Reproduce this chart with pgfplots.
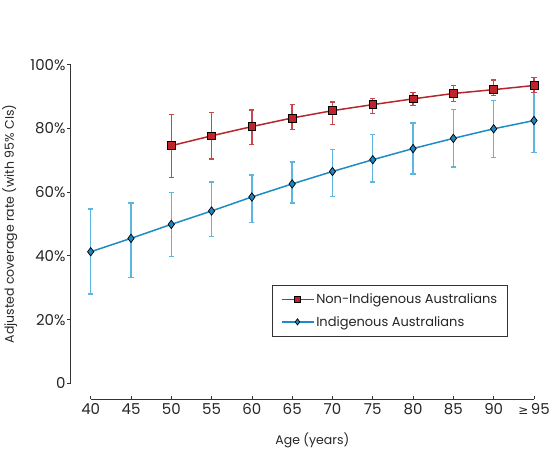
\documentclass[border=0pt]{standalone}
\usepackage{pgfplots}
\usepackage{pgfplotstable}
\pgfplotsset{compat=1.18}
\usepackage{fontspec}
\setmainfont{Poppins}
\newfontfamily\dejavu{DejaVu Sans}
\definecolor{redline}{HTML}{B5272D}
\definecolor{redfill}{HTML}{C0232A}
\definecolor{rederr}{HTML}{C9464B}
\definecolor{blueline}{HTML}{1E8BC6}
\definecolor{bluefill}{HTML}{1C86C1}
\definecolor{blueerr}{HTML}{5DB6E0}
\definecolor{axisgray}{HTML}{333333}

\pgfplotstableread{
x y ep em
0 41.3 13.4 13.3
1 45.5 11.1 12.2
2 49.9 9.9 10.1
3 54.1 9.1 8.0
4 58.5 6.9 8.0
5 62.6 6.9 6.0
6 66.5 7.0 7.9
7 70.2 7.9 7.0
8 73.7 8.0 8.0
9 76.9 9.1 9.0
10 79.9 9.0 9.0
11 82.5 10.0 10.0
}\indig
\pgfplotstableread{
x y ep em
2 74.6 9.7 9.9
3 77.7 7.4 7.3
4 80.6 5.2 5.6
5 83.3 4.2 3.7
6 85.6 2.7 4.4
7 87.5 1.9 2.8
8 89.3 2.0 2.0
9 91.0 2.4 2.6
10 92.2 3.0 1.9
11 93.5 2.5 2.2
}\nonindig

\begin{document}
\begin{tikzpicture}
\path[use as bounding box] (-70.7pt,-66.7pt) rectangle (484.3pt,383.3pt);
\begin{axis}[
  at={(0pt,0pt)}, anchor=south west,
  scale only axis,
  width=483.4pt, height=318.5pt,
  xmin=-0.496, xmax=11.5,
  ymin=0, ymax=100,
  axis x line=none,
  axis y line*=left,
  axis line style={axisgray, line width=0.9pt},
  ytick={0,20,40,60,80,100},
  yticklabels={0,20\%,40\%,60\%,80\%,100\%},
  tick align=outside,
  major tick length=3.5pt,
  tick style={axisgray, line width=0.8pt},
  yticklabel style={font=\fontsize{15}{17}\selectfont, text=black!85, inner sep=1.5pt},
  ylabel={Adjusted coverage rate (with 95\% CIs)},
  every axis y label/.style={at={(rel axis cs:0,0.5)}, xshift=-61pt, rotate=90, anchor=center, font=\fontsize{12.5}{14}\selectfont, text=black!85},
  clip=false,
  reverse legend,
  legend image code/.code={\draw[mark repeat=2, mark phase=2, #1, line width=1.5pt] plot coordinates {(0pt,0pt) (16pt,0pt) (32pt,0pt)};},
  legend image post style={mark size=3.1pt},
  legend style={at={(0.904,0.309)}, anchor=north east, draw=axisgray, line width=0.8pt,
    font=\fontsize{13}{15}\selectfont, text=black!85, row sep=7pt, inner xsep=8pt, inner ysep=6.5pt},
  legend cell align=left,
]
\addplot[blueline, line width=1.5pt, mark=diamond*, mark size=4.2pt,
  mark options={fill=bluefill, draw=black, line width=0.7pt},
  error bars/.cd, y dir=both, y explicit,
  error bar style={blueerr, line width=1.4pt},
  error mark options={blueerr, rotate=90, mark size=2.6pt, line width=1.3pt}]
  table[x=x, y=y, y error plus=ep, y error minus=em] {\indig};
\addlegendentry{Indigenous Australians}
\addplot[redline, line width=1.5pt, mark=square*, mark size=3.9pt,
  mark options={fill=redfill, draw=black, line width=0.7pt},
  error bars/.cd, y dir=both, y explicit,
  error bar style={rederr, line width=1.4pt},
  error mark options={rederr, rotate=90, mark size=2.6pt, line width=1.3pt}]
  table[x=x, y=y, y error plus=ep, y error minus=em] {\nonindig};
\addlegendentry{Non-Indigenous Australians}
\end{axis}
\begin{axis}[
  at={(20pt,-16pt)}, anchor=south west,
  scale only axis,
  width=443.3pt, height=10pt,
  xmin=0, xmax=11, ymin=0, ymax=1,
  axis x line*=bottom,
  axis y line=none,
  axis line style={axisgray, line width=0.9pt},
  xtick={0,...,11},
  xticklabels={40,45,50,55,60,65,70,75,80,85,90,{{\dejavu\fontsize{12}{14}\selectfont≥}\,95}},
  tick align=inside,
  major tick length=3.5pt,
  tick style={axisgray, line width=0.8pt},
  xticklabel style={font=\fontsize{15}{17}\selectfont, text=black!85, yshift=-1pt},
  xlabel={Age (years)},
  every axis x label/.style={at={(rel axis cs:0.5,0)}, yshift=-40.7pt, anchor=center, font=\fontsize{12.5}{14}\selectfont, text=black!85},
]
\end{axis}
\end{tikzpicture}
\end{document}
